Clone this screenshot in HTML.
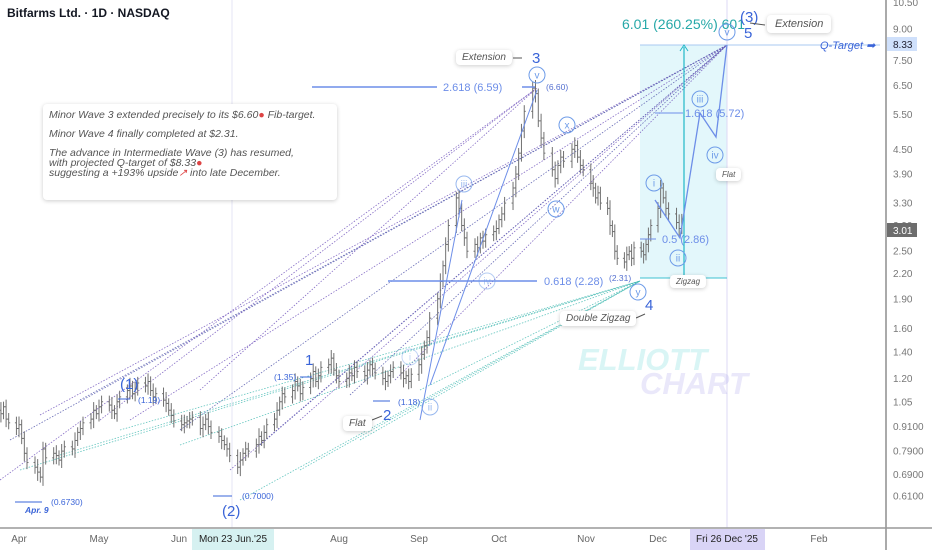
<!DOCTYPE html>
<html><head><meta charset="utf-8"><style>
body{margin:0;background:#fff;font-family:"Liberation Sans",sans-serif}
svg{display:block}
.box{position:absolute;background:#fff;border-radius:4px;box-shadow:0 1px 4px rgba(0,0,0,.2);font-style:italic;color:#555;font-size:10px;padding:2px 6px}
</style></head><body>
<div style="position:relative;width:932px;height:550px;overflow:hidden">
<svg id="c" width="932" height="550"></svg>
<div style="position:absolute;left:7px;top:6px;font-size:12px;font-weight:bold;color:#131722">Bitfarms Ltd. · 1D · NASDAQ</div>
<div class="box" style="left:43px;top:104px;width:282px;height:84px;font-size:10.5px;padding:6px 6px;line-height:10px">
Minor Wave 3 extended precisely to its $6.60<span style="color:#d44">●</span> Fib-target.<br><div style="height:9px"></div>Minor Wave 4 finally completed at $2.31.<br><div style="height:9px"></div>The advance in Intermediate Wave (3) has resumed,<br>with projected Q-target of $8.33<span style="color:#d44">●</span><br>suggesting a +193% upside<span style="color:#d44">↗</span> into late December.</div>
<div class="box" style="left:456px;top:50px">Extension</div>
<div class="box" style="left:767px;top:15px;font-size:11px;padding:3px 8px">Extension</div>
<div class="box" style="left:716px;top:168px;font-size:8px">Flat</div>
<div class="box" style="left:670px;top:275px;font-size:8px">Zigzag</div>
<div class="box" style="left:560px;top:311px">Double Zigzag</div>
<div class="box" style="left:343px;top:416px">Flat</div>
<div style="position:absolute;left:578px;top:342px;font:italic bold 31px 'Liberation Sans',sans-serif;color:rgba(80,210,210,.22)">ELLIOTT</div>
<div style="position:absolute;left:640px;top:366px;font:italic bold 31px 'Liberation Sans',sans-serif;color:rgba(160,150,230,.22)">CHART</div>
</div>
<script>
const NS='http://www.w3.org/2000/svg';
const svg=document.getElementById('c');
const yTicks=[10.5,9,7.5,6.5,5.5,4.5,3.9,3.3,2.9,2.5,2.2,1.9,1.6,1.4,1.2,1.05,0.91,0.79,0.69,0.61];
const yTickLabels=['10.50','9.00','7.50','6.50','5.50','4.50','3.90','3.30','2.90','2.50','2.20','1.90','1.60','1.40','1.20','1.05','0.9100','0.7900','0.6900','0.6100'];
const monthLabels=['Apr','May','Jun','Aug','Sep','Oct','Nov','Dec','Feb'];
const monthDates=['2025-04-01','2025-05-01','2025-06-01','2025-08-01','2025-09-01','2025-10-01','2025-11-01','2025-12-01','2026-02-01'];
const startDate='2025-03-24';
const closes=[1.00,0.98,1.02,0.95,0.93, 0.90,0.92,0.85,0.78,0.74, 0.72,0.70,0.68,0.80,0.76, 0.78,0.77,0.75,0.79,0.81,
0.80,0.84,0.88,0.90,0.93, 0.95,1.00,0.98,1.02,1.05, 1.03,1.00,0.98,1.05,1.08, 1.12,1.15,1.10,1.13,1.17,
1.15,1.18,1.12,1.08,1.10, 1.06,1.04,1.00,0.97,0.94, 0.92,0.93,0.94,0.95,0.96, 0.90,0.92,0.95,0.91,0.88,
0.86,0.84,0.82,0.80,0.77, 0.72,0.75,0.78,0.80,0.79, 0.82,0.86,0.84,0.88,0.92, 0.95,1.00,1.05,1.10,1.08,
1.12,1.18,1.15,1.10,1.14, 1.20,1.25,1.18,1.22,1.28, 1.30,1.35,1.26,1.22,1.18, 1.20,1.24,1.22,1.28,1.25,
1.22,1.26,1.30,1.27,1.24, 1.20,1.18,1.22,1.25,1.28, 1.24,1.20,1.22,1.18,1.23, 1.30,1.38,1.45,1.52,1.70,
1.90,2.10,2.30,2.60,2.90, 3.40,3.20,2.90,2.70,2.50, 2.60,2.55,2.70,2.65,2.75, 2.80,2.85,3.00,3.10,3.30,
3.60,3.90,4.40,5.00,5.60, 6.40,6.20,5.30,4.80,4.40, 4.00,3.80,4.10,4.30,4.20, 4.50,4.60,4.30,4.10,4.00,
3.70,3.60,3.40,3.50,3.30, 3.20,2.90,2.80,2.50,2.40, 2.35,2.45,2.50,2.40,2.55, 2.50,2.45,2.60,2.75,2.90,
3.20,3.60,3.40,3.20,3.10, 2.95,2.85,3.01];
const spreads=[0.06,0.08,0.05,0.07,0.06];
function y(p){return 29+(Math.log(9)-Math.log(p))*173.5;}
const anchors=[['2025-03-01',-61],['2025-04-01',19],['2025-05-01',99],['2025-06-01',179],['2025-07-01',259],['2025-08-01',339],['2025-09-01',419],['2025-10-01',499],['2025-11-01',586],['2025-12-01',658],['2026-01-01',740],['2026-02-01',819],['2026-03-01',893]].map(a=>[Date.parse(a[0]),a[1]]);
function x(d){const t=typeof d==='string'?Date.parse(d):d;for(let i=0;i<anchors.length-1;i++){if(t>=anchors[i][0]&&t<anchors[i+1][0]){return anchors[i][1]+(t-anchors[i][0])/(anchors[i+1][0]-anchors[i][0])*(anchors[i+1][1]-anchors[i][1]);}}return 900;}
function el(t,a,p){const e=document.createElementNS(NS,t);for(const k in a)e.setAttribute(k,a[k]);(p||svg).appendChild(e);return e;}
function txt(s,X,Y,a){const e=el('text',Object.assign({x:X,y:Y,'font-size':10,fill:'#3a64d8','font-family':'Liberation Sans, sans-serif'},a||{}));e.textContent=s;return e;}
el('rect',{x:640,y:45,width:87,height:233,fill:'#e3f7fb'});
el('line',{x1:232,y1:0,x2:232,y2:528,stroke:'#e4e4f4'});
el('line',{x1:727,y1:0,x2:727,y2:528,stroke:'#dcd9f4'});
const fanP=[[10,440],[40,415],[80,400],[130,420],[180,430],[230,470],[260,445],[300,420],[350,395],[395,380]];
fanP.forEach((s,i)=>{const l=el('line',{x1:s[0],y1:s[1],x2:727,y2:45,stroke:i%2?'#7a5fc0':'#5b5fb0','stroke-width':0.8,'stroke-dasharray':'1.5,1.5',opacity:.9});});
[[20,470],[60,455],[120,430],[180,445],[240,500],[300,470],[360,440],[420,390]].forEach(s=>{const l=el('line',{x1:s[0],y1:s[1],x2:640,y2:281,stroke:'#3fb8b0','stroke-width':0.8,'stroke-dasharray':'1.5,1.5',opacity:.8});});
[[0,480],[100,420],[200,390]].forEach(s=>{const l=el('line',{x1:s[0],y1:s[1],x2:537,y2:88,stroke:'#7a5fc0','stroke-width':0.8,'stroke-dasharray':'1.5,1.5',opacity:.9});});
el('line',{x1:886,y1:0,x2:886,y2:550,stroke:'#555'});
el('line',{x1:0,y1:528,x2:932,y2:528,stroke:'#999','stroke-width':1.5});
yTicks.forEach((v,i)=>{const t=txt(yTickLabels[i],893,y(v)+3.5,{fill:'#777','font-size':10});});
monthLabels.forEach((m,i)=>{const t=txt(m,x(monthDates[i]),542,{fill:'#666','font-size':10,'text-anchor':'middle'});});
el('rect',{x:192,y:529,width:82,height:21,fill:'#d6f1f1'});
txt("Mon 23 Jun.'25",233,542,{fill:'#222','font-size':10,'text-anchor':'middle'});
el('rect',{x:690,y:529,width:75,height:21,fill:'#d9d4f6'});
txt("Fri 26 Dec '25",727,542,{fill:'#222','font-size':10,'text-anchor':'middle'});
let d=Date.parse(startDate),prev=closes[0];
closes.forEach((c,i)=>{while([0,6].includes(new Date(d).getUTCDay()))d+=864e5;
 const X=x(d),o=prev,sp=spreads[i%spreads.length]*Math.max(o,c);
 const hi=Math.max(o,c)+sp*0.6,lo=Math.min(o,c)-sp*0.6;
 const g=el('g',{stroke:'#707070','stroke-width':1});
 
 
 el('line',{x1:X,y1:y(hi),x2:X,y2:y(lo)},g);el('line',{x1:X-1.5,y1:y(o),x2:X,y2:y(o)},g);el('line',{x1:X,y1:y(c),x2:X+1.5,y2:y(c)},g);
 prev=c;d+=864e5;});
const B='#3a64d8',LB='#6d8ee8';
el('line',{x1:312,y1:87,x2:437,y2:87,stroke:LB,'stroke-width':1.5});txt('2.618 (6.59)',443,91,{fill:LB,'font-size':11});el('line',{x1:522,y1:87,x2:535,y2:87,stroke:LB,'stroke-width':1.5});
txt('(6.60)',546,90,{'font-size':8.5,fill:'#5570d0'});
el('line',{x1:388,y1:281,x2:537,y2:281,stroke:LB,'stroke-width':1.5});txt('0.618 (2.28)',544,285,{fill:LB,'font-size':11});txt('(2.31)',609,281,{'font-size':8.5,fill:'#5570d0'});
el('line',{x1:655,y1:113,x2:683,y2:113,stroke:LB});txt('1.618 (5.72)',685,117,{fill:LB,'font-size':11});
el('line',{x1:640,y1:239,x2:656,y2:239,stroke:LB});txt('0.5 (2.86)',662,243,{fill:LB,'font-size':11});
el('line',{x1:640,y1:278,x2:727,y2:278,stroke:'#3cc0d0'});
el('line',{x1:640,y1:45,x2:880,y2:45,stroke:'#a8c8f0'});
el('line',{x1:684,y1:278,x2:684,y2:47,stroke:'#20b8c8','stroke-width':1.2});
el('path',{d:'M680,51 L684,45 L688,51',fill:'none',stroke:'#20b8c8'});
txt('6.01 (260.25%) 601',622,29,{fill:'#26a8a8','font-size':14});
txt('Q-Target ➡',820,49,{fill:B,'font-size':11,'font-style':'italic'});
el('rect',{x:887,y:37,width:30,height:14,fill:'#cfe0fb'});txt('8.33',893,48,{fill:'#223','font-size':10});
el('rect',{x:887,y:223,width:30,height:14,fill:'#6d6d6d'});txt('3.01',893,234,{fill:'#fff','font-size':10});
el('polyline',{points:'430,385 537,90',fill:'none',stroke:LB,'stroke-width':1});
el('polyline',{points:'420,420 462,200',fill:'none',stroke:LB,'stroke-width':1});
el('polyline',{points:'655,200 680,238 700,113 716,137 727,45',fill:'none',stroke:LB,'stroke-width':1.3});
el('line',{x1:118,y1:399,x2:130,y2:399,stroke:B});el('line',{x1:15,y1:502,x2:42,y2:502,stroke:B});el('line',{x1:213,y1:496,x2:232,y2:496,stroke:B});el('line',{x1:300,y1:377,x2:312,y2:377,stroke:B});el('line',{x1:373,y1:401,x2:390,y2:401,stroke:B});
function circ(s,X,Y,op){const g=el('g',{opacity:op||1});el('circle',{cx:X,cy:Y,r:8,fill:'none',stroke:'#6d9be8'},g);const t=el('text',{x:X,y:Y+3.5,'font-size':10,fill:'#6d9be8','text-anchor':'middle','font-family':'Liberation Sans, sans-serif'},g);t.textContent=s;}
circ('v',537,75);circ('v',727,32);circ('x',567,125);circ('w',556,209);circ('iii',464,184,.7);circ('iv',487,281,.5);circ('i',654,183);circ('ii',678,258);circ('iii',700,99);circ('iv',715,155);circ('y',638,292);circ('ii',430,407,.7);circ('i',410,357,.4);
txt('3',532,63,{'font-size':15});txt('(3)',740,22,{'font-size':15});txt('5',744,38,{'font-size':15});
txt('4',645,310,{'font-size':15});txt('1',305,365,{'font-size':15});txt('2',383,420,{'font-size':15});
txt('(1)',120,389,{'font-size':15});txt('(2)',222,516,{'font-size':15});
txt('(1.19)',138,403,{'font-size':8.5});txt('(1.35)',274,380,{'font-size':8.5});txt('(1.18)',398,405,{'font-size':8.5});
txt('(0.6730)',51,505,{'font-size':8.5});txt('(0.7000)',242,499,{'font-size':8.5});
txt('Apr. 9',25,513,{'font-size':8.5,'font-style':'italic','font-weight':'bold'});
el('path',{d:'M513,58 L522,58',stroke:'#555'});el('path',{d:'M750,23 L765,25',stroke:'#555'});el('path',{d:'M636,318 L645,314',stroke:'#555'});el('path',{d:'M372,420 L382,416',stroke:'#555'});
</script>
</body></html>
